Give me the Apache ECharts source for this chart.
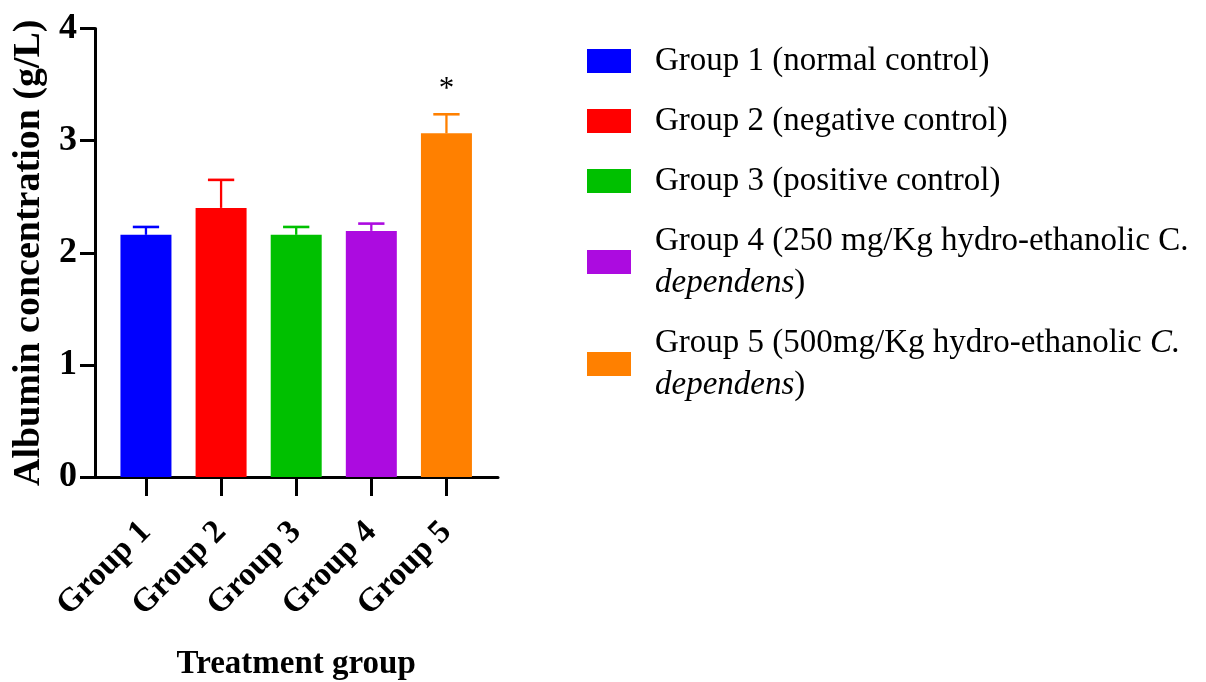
<!DOCTYPE html>
<html>
<head>
<meta charset="utf-8">
<script src="https://cdn.jsdelivr.net/npm/echarts@6/dist/echarts.min.js"></script>
<style>
  html, body { margin: 0; padding: 0; background: #fff; }
  #chart { width: 1206px; height: 682px; }
</style>
</head>
<body>
<div id="chart"></div>
<script>
// ---- data ----
const categories = ['Group 1', 'Group 2', 'Group 3', 'Group 4', 'Group 5'];
const legendNames = [
  'Group 1 (normal control)',
  'Group 2 (negative control)',
  'Group 3 (positive control)',
  'Group 4 (250 mg/Kg hydro-ethanolic C. dependens)',
  'Group 5 (500mg/Kg hydro-ethanolic C. dependens)'
];
const means = [2.16, 2.40, 2.16, 2.195, 3.065];
const upperErr = [0.07, 0.25, 0.07, 0.065, 0.17];
const significance = ['', '', '', '', '*'];
const colors = ['#0000FF', '#FF0000', '#00C000', '#AC0BE0', '#FF8000'];
const yAxisName = 'Albumin concentration (g/L)';
const xAxisName = 'Treatment group';

const FONT = '"Liberation Serif", "Times New Roman", serif';

const legendRich = {
  'Group 4 (250 mg/Kg hydro-ethanolic C. dependens)': 'Group 4 (250 mg/Kg hydro-ethanolic C.\n{i|dependens})',
  'Group 5 (500mg/Kg hydro-ethanolic C. dependens)': 'Group 5 (500mg/Kg hydro-ethanolic {i|C.}\n{i|dependens})'
};

const chart = echarts.init(document.getElementById('chart'), null, { renderer: 'canvas' });

const barSeries = legendNames.map((n, i) => ({
  type: 'bar',
  name: n,
  xAxisIndex: 0,
  yAxisIndex: 0,
  barWidth: 51,
  barGap: '-100%',
  itemStyle: { color: colors[i] },
  emphasis: { disabled: true },
  data: means.map((v, j) => (j === i ? v : '-'))
}));

const errorSeries = {
  type: 'custom',
  xAxisIndex: 0,
  yAxisIndex: 0,
  silent: true,
  z: 5,
  data: means.map((v, i) => [i, v, v + upperErr[i]]),
  renderItem: function (params, api) {
    const i = api.value(0);
    const top = api.coord([i, api.value(1)]);
    const up = api.coord([i, api.value(2)]);
    const band = api.size([1, 0])[0];
    const half = band * 0.175;
    const c = colors[i];
    const children = [
      { type: 'line', shape: { x1: top[0], y1: top[1], x2: up[0], y2: up[1] }, style: { stroke: c, lineWidth: 2.3 } },
      { type: 'line', shape: { x1: up[0] - half, y1: up[1], x2: up[0] + half, y2: up[1] }, style: { stroke: c, lineWidth: 2.6 } }
    ];
    if (significance[i]) {
      children.push({
        type: 'text',
        style: { text: significance[i], x: up[0], y: up[1] - 24, align: 'center', verticalAlign: 'middle',
                 font: '31px ' + FONT, fill: '#000' }
      });
    }
    return { type: 'group', children: children };
  }
};

const option = {
  animation: false,
  backgroundColor: '#fff',
  grid: [
    { left: 108.4, width: 375.6, top: 28.5, bottom: 205, containLabel: false, outerBoundsMode: 'none' },
    { left: 95, right: 708, top: 28.5, bottom: 205, containLabel: false, outerBoundsMode: 'none' }
  ],
  legend: {
    orient: 'vertical',
    left: 587,
    top: 40,
    padding: 0,
    itemWidth: 44,
    itemHeight: 24,
    itemGap: 18,
    icon: 'rect',
    selectedMode: false,
    data: legendNames,
    formatter: function (name) { return legendRich[name] || name; },
    textStyle: {
      fontFamily: FONT, fontSize: 33, color: '#000', lineHeight: 42,
      padding: [0, 0, 0, 19],
      rich: { i: { fontFamily: FONT, fontSize: 33, fontStyle: 'italic', color: '#000', lineHeight: 42 } }
    }
  },
  xAxis: [
    {
      type: 'category',
      gridIndex: 0,
      data: categories,
      axisLine: { show: false },
      axisTick: { show: true, alignWithLabel: true, length: 19, lineStyle: { color: '#000', width: 3 } },
      axisLabel: { rotate: 45, margin: 50, interval: 0, fontFamily: FONT, fontSize: 33, fontWeight: 'bold', color: '#000' },
      name: xAxisName,
      nameLocation: 'middle',
      nameGap: 171,
      nameTextStyle: { fontFamily: FONT, fontSize: 33, fontWeight: 'bold', color: '#000' },
      splitLine: { show: false }
    },
    {
      type: 'value',
      gridIndex: 1,
      min: 0, max: 1,
      axisLine: { show: true, onZero: false, lineStyle: { color: '#000', width: 3 } },
      axisTick: { show: false },
      axisLabel: { show: false },
      splitLine: { show: false }
    }
  ],
  yAxis: [
    {
      type: 'value',
      gridIndex: 0,
      min: 0, max: 4, interval: 1,
      offset: 13.4,
      axisLine: { show: true, lineStyle: { color: '#000', width: 3 } },
      axisTick: { show: true, length: 15, lineStyle: { color: '#000', width: 3 } },
      axisLabel: { margin: 18, fontFamily: FONT, fontSize: 36, fontWeight: 'bold', color: '#000' },
      splitLine: { show: false },
      name: yAxisName,
      nameLocation: 'middle',
      nameGap: 47,
      nameTextStyle: { fontFamily: FONT, fontSize: 38, fontWeight: 'bold', color: '#000' }
    },
    {
      type: 'value',
      gridIndex: 1,
      min: 0, max: 4,
      show: false
    }
  ],
  series: barSeries.concat([errorSeries])
};

chart.setOption(option);
</script>
</body>
</html>
